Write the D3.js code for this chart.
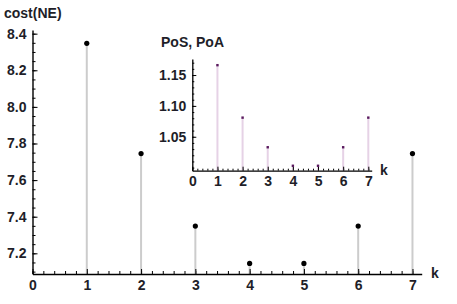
<!DOCTYPE html>
<html>
<head>
<meta charset="utf-8">
<script src="https://cdn.jsdelivr.net/npm/d3@7"></script>
<style>
  body { margin: 0; background: #fff; }
  svg text { font-family: "Liberation Sans", Arial, sans-serif; font-weight: bold; fill: #1e1e28; }
</style>
</head>
<body>
<div id="chart"></div>
<script>
'use strict';

// k values shared by both panels
const kValues = [1, 2, 3, 4, 5, 6, 7];
// main panel: cost of the Nash equilibrium
const costNE = [8.347, 7.745, 7.349, 7.145, 7.145, 7.349, 7.745];
// inset panel: price of stability / anarchy
const poaValues = [1.166, 1.081, 1.033, 1.003, 1.003, 1.033, 1.081];

const mainXTicks = [0, 1, 2, 3, 4, 5, 6, 7];
const mainYTicks = [7.2, 7.4, 7.6, 7.8, 8.0, 8.2, 8.4];
const insetXTicks = [0, 1, 2, 3, 4, 5, 6, 7];
const insetYTicks = [1.05, 1.10, 1.15];

const W = 457, H = 304;

const svg = d3.select("#chart").append("svg")
  .attr("width", W).attr("height", H);

function minorRange(a, b, step){
  let out = [];
  for(let i = 0; a + i * step <= b + 1e-9; i++) out.push(+(a + i * step).toFixed(4));
  return out;
}

function panel(p){
  let g = svg.append("g");
  let x = d3.scaleLinear().domain(p.xDomain).range(p.xRange);
  let y = d3.scaleLinear().domain(p.yDomain).range(p.yRange);

  // minor ticks
  g.append("g").attr("transform", `translate(0,${p.yRange[0]})`)
    .call(d3.axisBottom(x).tickValues(minorRange(p.xDomain[0], p.xDomain[1], p.xMinor)).tickSize(-p.minorLen).tickFormat(""))
    .call(a => a.select(".domain").remove());
  g.append("g").attr("transform", `translate(${p.xRange[0]},0)`)
    .call(d3.axisLeft(y).tickValues(minorRange(p.yMinorStart, p.yDomain[1], p.yMinor)).tickSize(-p.minorLen).tickFormat(""))
    .call(a => a.select(".domain").remove());

  // stems
  g.selectAll(".stem").data(p.values).join("line")
    .attr("x1", (d, i) => x(kValues[i])).attr("x2", (d, i) => x(kValues[i]))
    .attr("y1", y(p.yDomain[0])).attr("y2", d => y(d))
    .attr("stroke", p.stemColor).attr("stroke-width", p.stemWidth);

  // major axes
  let xa = g.append("g").attr("transform", `translate(0,${p.yRange[0]})`)
    .call(d3.axisBottom(x).tickValues(p.xTicks).tickSizeInner(-p.majorLen).tickSizeOuter(0).tickPadding(p.xPad).tickFormat(d3.format("d")));
  let ya = g.append("g").attr("transform", `translate(${p.xRange[0]},0)`)
    .call(d3.axisLeft(y).tickValues(p.yTicks).tickSizeInner(-p.majorLen).tickSizeOuter(0).tickPadding(p.yPad).tickFormat(p.yFormat));
  [xa, ya].forEach(a => {
    a.select(".domain").attr("stroke", "#000").attr("stroke-width", p.axisWidth);
    a.selectAll("text").attr("font-size", p.fontSize).style("font-family", null);
  });
  g.selectAll(".tick line").attr("stroke", "#000").attr("stroke-width", 1);

  // points
  if(p.square){
    g.selectAll(".pt").data(p.values).join("rect")
      .attr("x", (d, i) => x(kValues[i]) - 1.2).attr("y", d => y(d) - 1.2)
      .attr("width", 2.4).attr("height", 2.4).attr("fill", p.dotColor);
  } else {
    g.selectAll(".pt").data(p.values).join("circle")
      .attr("cx", (d, i) => x(kValues[i])).attr("cy", d => y(d))
      .attr("r", p.dotR).attr("fill", p.dotColor);
  }

  // labels
  g.append("text").attr("x", p.xLabelPos[0]).attr("y", p.xLabelPos[1])
    .attr("font-size", p.labelSize).attr("dy", "0.35em").text("k");
  g.append("text").attr("x", p.yLabelPos[0]).attr("y", p.yLabelPos[1])
    .attr("font-size", p.labelSize).text(p.yLabel);
}

panel({
  xDomain: [0, 7.17], xRange: [32.5, 421.7],
  yDomain: [7.087, 8.42], yRange: [274, 30],
  values: costNE,
  xTicks: mainXTicks, yTicks: mainYTicks,
  xMinor: 0.2, yMinor: 0.05, yMinorStart: 7.1,
  majorLen: 5, minorLen: 3,
  xPad: 6, yPad: 6,
  yFormat: d3.format(".1f"),
  stemColor: "#cccccc", stemWidth: 2,
  dotColor: "#000", dotR: 2.6,
  axisWidth: 1.4, fontSize: 14, labelSize: 14,
  xLabelPos: [431, 273], yLabelPos: [4, 18], yLabel: "cost(NE)"
});

// inset drawn over the main panel
panel({
  xDomain: [0, 7.135], xRange: [192.3, 371.7],
  yDomain: [0.995, 1.176], yRange: [170.7, 59],
  values: poaValues,
  xTicks: insetXTicks, yTicks: insetYTicks,
  xMinor: 0.2, yMinor: 0.01, yMinorStart: 1.0,
  majorLen: 4, minorLen: 2,
  xPad: 5, yPad: 6,
  yFormat: d3.format(".2f"),
  stemColor: "#e6d2e6", stemWidth: 2,
  dotColor: "#5a1a5e", square: true,
  axisWidth: 1.3, fontSize: 14, labelSize: 14,
  xLabelPos: [380, 170], yLabelPos: [161, 47], yLabel: "PoS, PoA"
});
</script>
</body>
</html>
